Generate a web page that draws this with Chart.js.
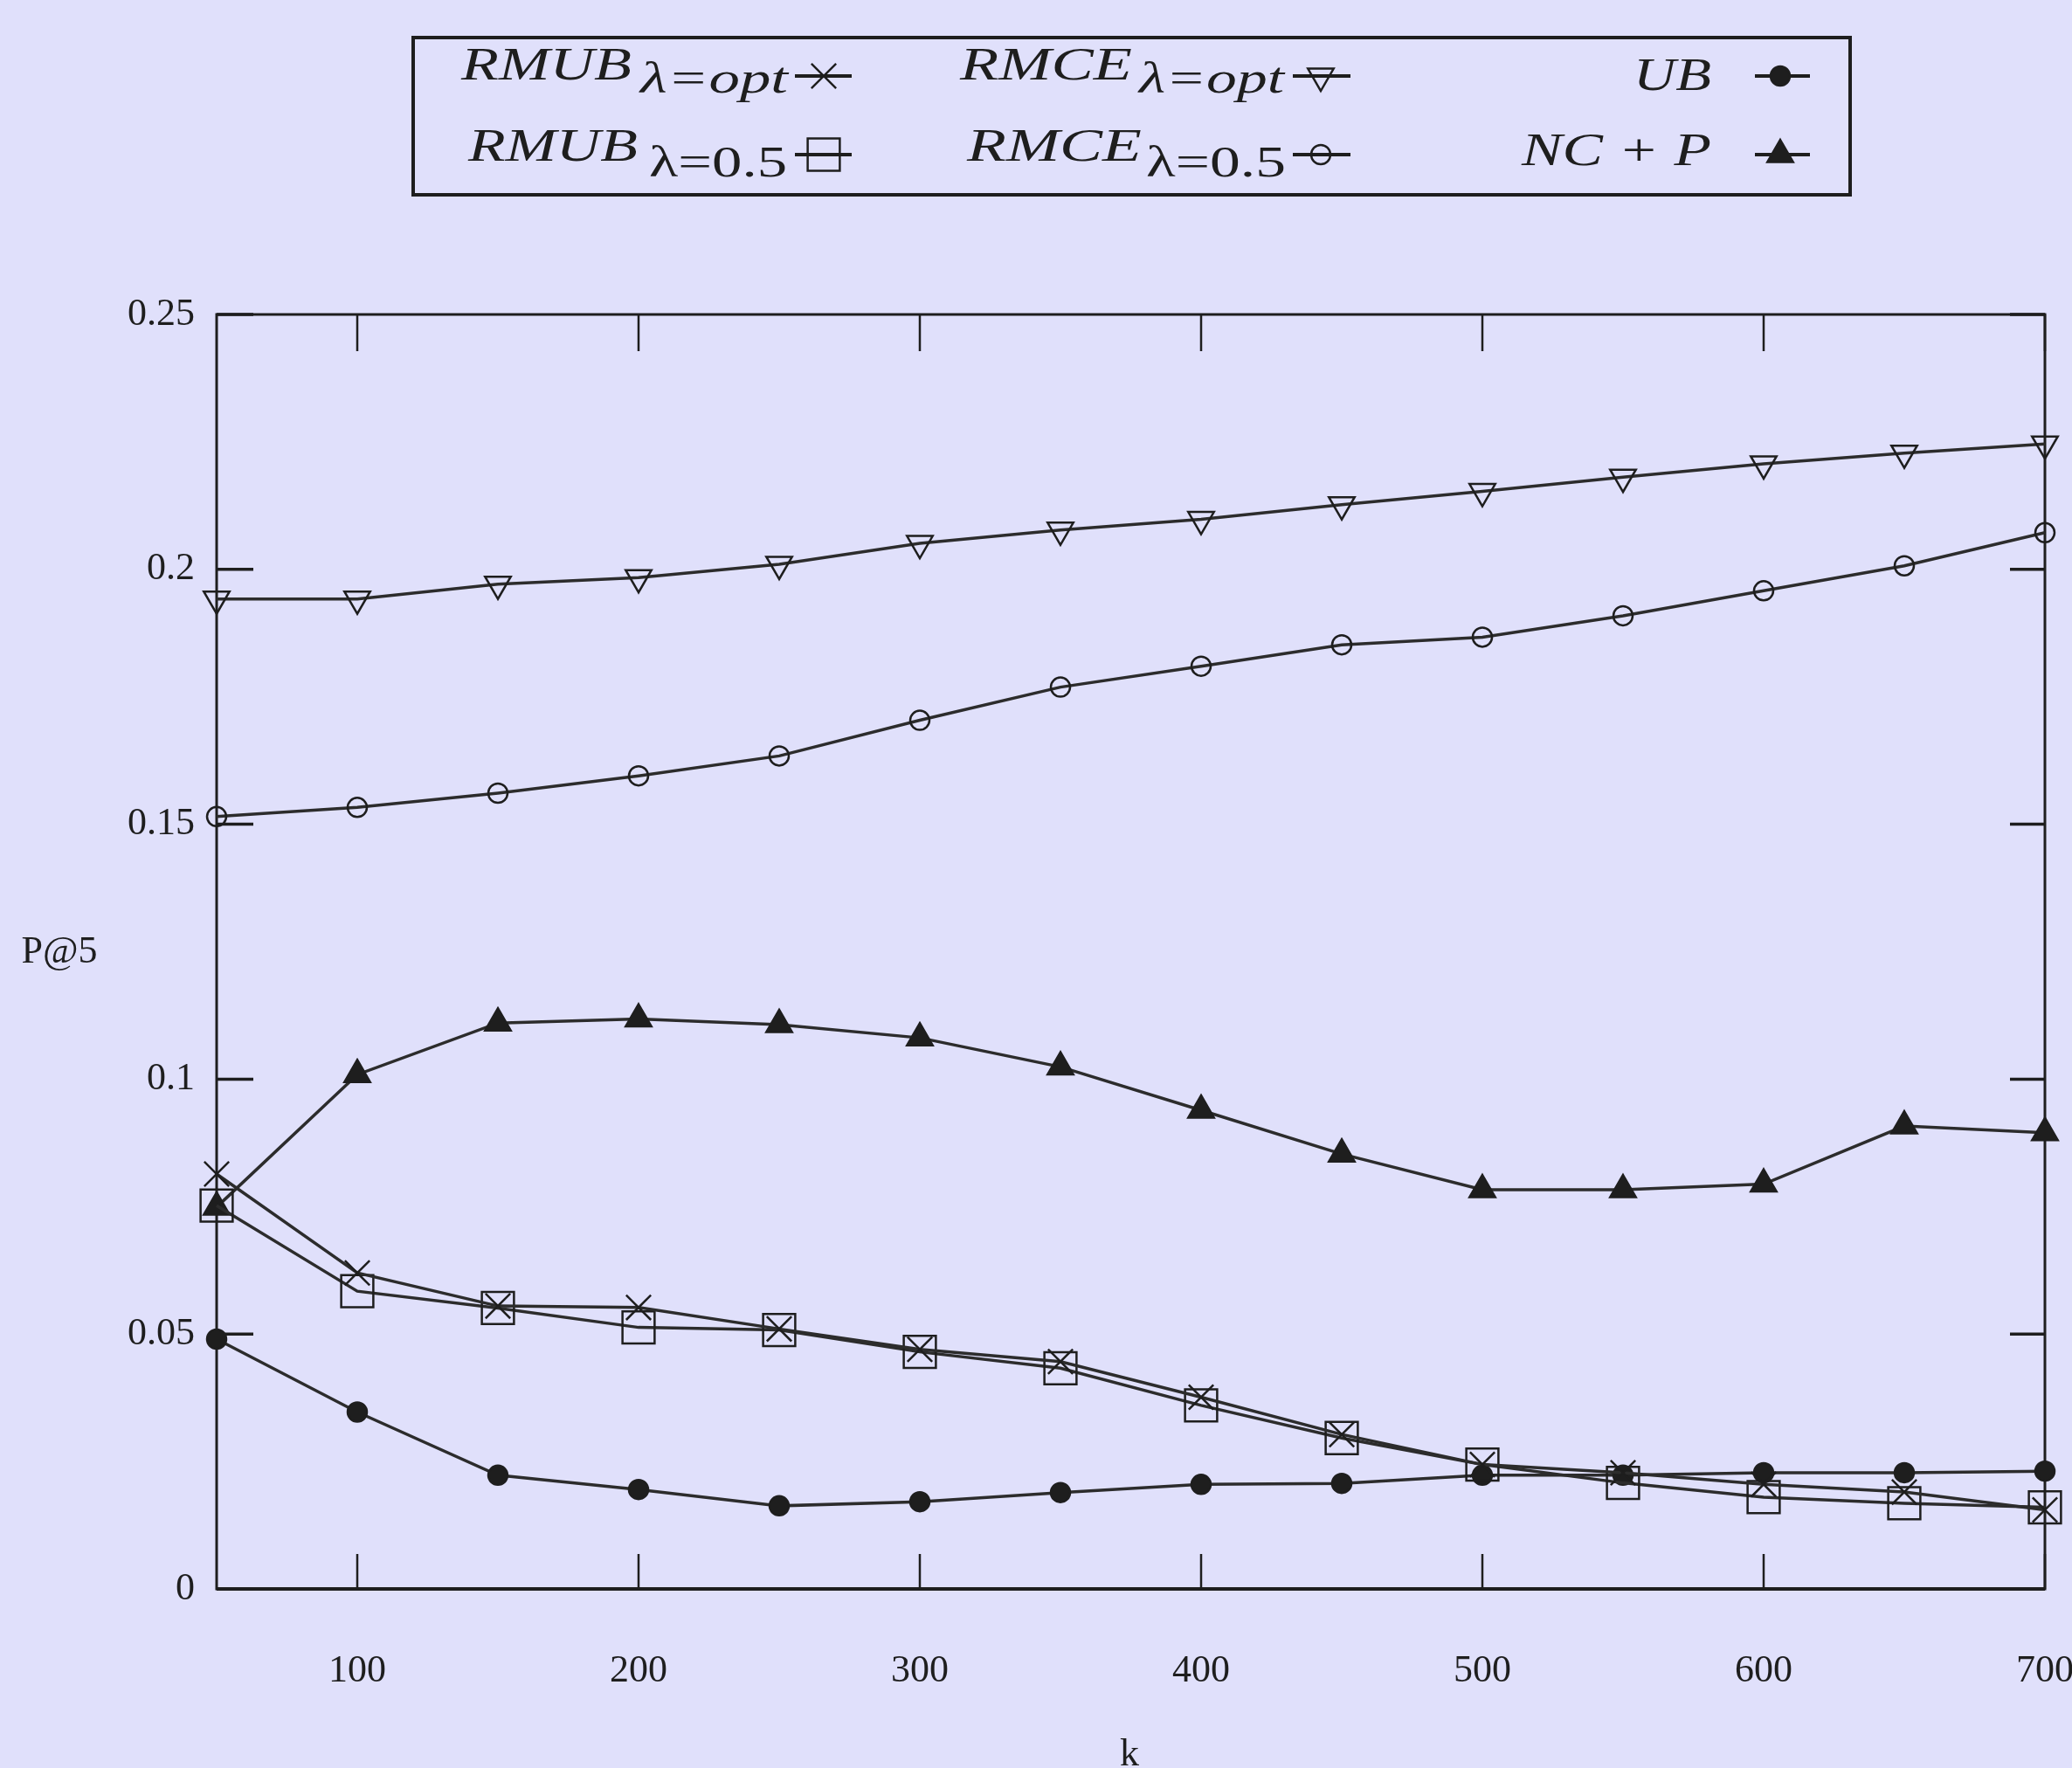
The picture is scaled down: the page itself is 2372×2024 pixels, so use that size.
<!DOCTYPE html>
<html>
<head>
<meta charset="utf-8">
<script src="https://cdn.jsdelivr.net/npm/chart.js@4/dist/chart.umd.min.js"></script>
<style>
  html, body { margin: 0; padding: 0; background: #e0e0fb; }
  #chart { display: block; }
</style>
</head>
<body>
<canvas id="chart" width="2372" height="2024"></canvas>
<script>
// k values along the x axis
const kValues = [ 50, 100, 150, 200, 250, 300, 350, 400, 450, 500, 550, 600, 650, 700 ]
const xTicks = [ 100, 200, 300, 400, 500, 600, 700 ]
const yTicks = [ 0, 0.05, 0.1, 0.15, 0.2, 0.25 ]

// P@5
const rmubOpt  = [ 0.0814, 0.0620, 0.0555, 0.0552, 0.0510, 0.0470, 0.0446, 0.0376, 0.0303, 0.0244, 0.0228, 0.0205, 0.0190, 0.0155 ]
const rmubHalf = [ 0.0752, 0.0584, 0.0551, 0.0513, 0.0508, 0.0465, 0.0433, 0.0360, 0.0296, 0.0244, 0.0208, 0.0180, 0.0168, 0.0160 ]
const rmceOpt  = [ 0.1942, 0.1942, 0.1971, 0.1984, 0.2010, 0.2051, 0.2077, 0.2098, 0.2127, 0.2153, 0.2181, 0.2207, 0.2228, 0.2246 ]
const rmceHalf = [ 0.1515, 0.1533, 0.1561, 0.1595, 0.1634, 0.1704, 0.1769, 0.1810, 0.1852, 0.1867, 0.1909, 0.1958, 0.2007, 0.2072 ]
const ub       = [ 0.0490, 0.0347, 0.0223, 0.0195, 0.0163, 0.0171, 0.0189, 0.0205, 0.0207, 0.0223, 0.0223, 0.0228, 0.0228, 0.0231 ]
const ncp      = [ 0.0749, 0.1009, 0.1110, 0.1118, 0.1107, 0.1081, 0.1024, 0.0939, 0.0853, 0.0783, 0.0783, 0.0794, 0.0908, 0.0895 ]

const seriesNames = [ 'RMUB', 'RMUB', 'RMCE', 'RMCE', 'UB', 'NC + P' ]
const seriesSubs  = [ 'λ=opt', 'λ=0.5', 'λ=opt', 'λ=0.5', '', '' ]

const INK = '#1e1e1e'
const BG = '#e0e0fb'
const NONE = 'rgba(0,0,0,0)'

const toPoints = ( vals ) => vals.map( ( v, i ) => ( { x: kValues[ i ], y: v } ) )

function series( i, vals, style, radius, rotation, filled ) {
  return {
    label: seriesNames[ i ] + ( seriesSubs[ i ] ? ' ' + seriesSubs[ i ] : '' ),
    data: toPoints( vals ),
    borderColor: '#2c2c2c',
    borderWidth: 3.5,
    tension: 0,
    clip: false,
    pointStyle: style,
    pointRadius: radius,
    pointRotation: rotation,
    pointBorderWidth: 2.5,
    pointBorderColor: INK,
    pointBackgroundColor: filled ? INK : NONE
  }
}

const datasets = [
  series( 0, rmubOpt, 'crossRot', 20, 0, false ),
  series( 1, rmubHalf, 'rect', 26, 0, false ),
  series( 2, rmceOpt, 'triangle', 17, 180, false ),
  series( 3, rmceHalf, 'circle', 11, 0, false ),
  series( 4, ub, 'circle', 11, 0, true ),
  series( 5, ncp, 'triangle', 17, 0, true )
]

// legend slots: [mainStart, mainEnd, mainBaseline, subStart, subEnd, subBaseline, lineStart, lineEnd, lineY, markerX]
const legendSlots = [
  [ 528, 723, 91, 733, 902, 106, 910, 975, 87, 943 ],
  [ 536, 730, 184, 743, 901, 202, 910, 975, 177, 943 ],
  [ 1099, 1296, 91, 1304, 1470, 106, 1480, 1546, 87, 1512 ],
  [ 1107, 1307, 184, 1312, 1472, 202, 1480, 1546, 177, 1512 ],
  [ 1870, 1959, 103, 0, 0, 0, 2009, 2072, 87, 2038 ],
  [ 1742, 1959, 189, 0, 0, 0, 2009, 2072, 177, 2038 ]
]

// stretch a string horizontally so it spans x0..x1
function stretchText( ctx, text, x0, x1, baseline ) {
  const w = ctx.measureText( text ).width
  const sx = ( x1 - x0 ) / w
  ctx.save()
  ctx.translate( x0, baseline )
  ctx.scale( sx, 1 )
  ctx.fillText( text, 0, 0 )
  ctx.restore()
}

const framePlugin = {
  id: 'frame',
  beforeDatasetsDraw( chart ) {
    const { ctx, chartArea: { left, right, top, bottom }, scales: { x, y } } = chart
    ctx.save()
    ctx.strokeStyle = INK
    ctx.lineCap = 'butt'
    ctx.lineWidth = 3
    ctx.strokeRect( left, top, right - left, bottom - top )
    ctx.lineWidth = 4
    ctx.beginPath()
    ctx.moveTo( left, bottom )
    ctx.lineTo( right, bottom )
    ctx.stroke()
    ctx.lineWidth = 2.5
    ctx.beginPath()
    xTicks.forEach( v => {
      const px = x.getPixelForValue( v )
      ctx.moveTo( px, bottom )
      ctx.lineTo( px, bottom - 40 )
      ctx.moveTo( px, top )
      ctx.lineTo( px, top + 42 )
    } )
    ctx.stroke()
    ctx.lineWidth = 3.5
    ctx.beginPath()
    yTicks.forEach( v => {
      const py = y.getPixelForValue( v )
      ctx.moveTo( left, py )
      ctx.lineTo( left + 42, py )
      ctx.moveTo( right, py )
      ctx.lineTo( right - 40, py )
    } )
    ctx.stroke()
    ctx.restore()
  },
  afterDraw( chart ) {
    const { ctx } = chart
    ctx.save()
    // axis titles
    ctx.fillStyle = INK
    ctx.font = '44px "Liberation Serif"'
    ctx.textAlign = 'center'
    ctx.textBaseline = 'middle'
    ctx.fillText( 'P@5', 68, 1090 )
    ctx.textBaseline = 'alphabetic'
    ctx.fillText( 'k', 1293, 2021 )

    // legend box
    ctx.lineWidth = 4
    ctx.strokeStyle = INK
    ctx.strokeRect( 473, 43, 1645, 180 )
    ctx.textAlign = 'left'
    legendSlots.forEach( ( s, i ) => {
      ctx.fillStyle = INK
      ctx.font = 'italic 52px "Liberation Serif"'
      stretchText( ctx, seriesNames[ i ], s[ 0 ], s[ 1 ], s[ 2 ] )
      const sub = seriesSubs[ i ]
      if ( sub ) {
        ctx.font = ( /opt/.test( sub ) ? 'italic ' : '' ) + '50px "Liberation Serif"'
        stretchText( ctx, sub, s[ 3 ], s[ 4 ], s[ 5 ] )
      }
      ctx.strokeStyle = INK
      ctx.lineWidth = 4
      ctx.beginPath()
      ctx.moveTo( s[ 6 ], s[ 8 ] )
      ctx.lineTo( s[ 7 ], s[ 8 ] )
      ctx.stroke()
      const d = datasets[ i ]
      ctx.fillStyle = d.pointBackgroundColor
      ctx.strokeStyle = d.pointBorderColor
      ctx.lineWidth = d.pointBorderWidth
      Chart.helpers.drawPoint( ctx, {
        pointStyle: d.pointStyle,
        radius: d.pointRadius,
        rotation: d.pointRotation,
        borderWidth: d.pointBorderWidth
      }, s[ 9 ], s[ 8 ] )
    } )
    ctx.restore()
  }
}

const bgPlugin = {
  id: 'bg',
  beforeDraw( chart ) {
    const { ctx, width, height } = chart
    ctx.save()
    ctx.fillStyle = BG
    ctx.fillRect( 0, 0, width, height )
    ctx.restore()
  }
}

const tickFont = { family: '"Liberation Serif"', size: 44 }

new Chart( document.getElementById( 'chart' ), {
  type: 'line',
  data: { datasets },
  options: {
    responsive: false,
    animation: false,
    devicePixelRatio: 1,
    events: [ ],
    layout: { padding: { left: 0, top: 360, right: 31, bottom: 0 } },
    plugins: { legend: { display: false }, tooltip: { enabled: false } },
    scales: {
      x: {
        type: 'linear',
        min: 50,
        max: 700,
        grid: { display: false, drawTicks: false },
        border: { display: false },
        ticks: { font: tickFont, color: INK, padding: 68, maxRotation: 0, autoSkip: false },
        afterBuildTicks: ( s ) => { s.ticks = xTicks.map( v => ( { value: v } ) ) },
        afterFit: ( s ) => { s.height = 205; s.paddingLeft = 0; s.paddingRight = 0 }
      },
      y: {
        type: 'linear',
        min: 0,
        max: 0.25,
        grid: { display: false, drawTicks: false },
        border: { display: false },
        ticks: { font: tickFont, color: INK, padding: 25, callback: ( v ) => String( v ) },
        afterBuildTicks: ( s ) => { s.ticks = yTicks.map( v => ( { value: v } ) ) },
        afterFit: ( s ) => { s.width = 248; s.paddingTop = 0; s.paddingBottom = 0 }
      }
    }
  },
  plugins: [ bgPlugin, framePlugin ]
} )
</script>
</body>
</html>
